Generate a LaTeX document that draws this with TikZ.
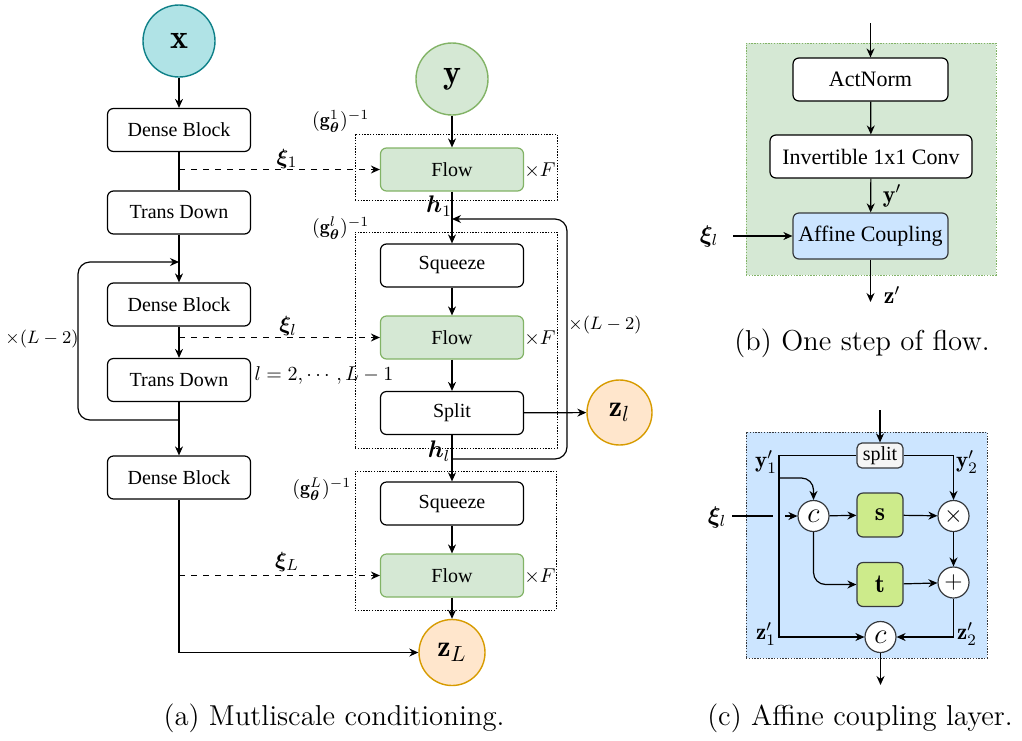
\documentclass[tikz,border=0pt]{standalone}
\usepackage{fontspec}
\usepackage{amsmath,bm}
\newfontfamily\tms{Liberation Serif}
\usetikzlibrary{arrows.meta}
\definecolor{tealF}{HTML}{B0E3E6}
\definecolor{tealS}{HTML}{0E8088}
\definecolor{greenF}{HTML}{D5E8D4}
\definecolor{greenS}{HTML}{82B366}
\definecolor{orangeF}{HTML}{FFE6CC}
\definecolor{orangeS}{HTML}{D79B00}
\definecolor{blueF}{HTML}{CCE5FF}
\definecolor{limeF}{HTML}{CDEB8B}
\definecolor{darkS}{HTML}{36393D}
\definecolor{splitF}{HTML}{F5F5F5}
\begin{document}
\begin{tikzpicture}[x=0.5pt,y=-0.5pt,
  every path/.style={line width=0.6pt},
  arr/.style={-{Stealth[length=4.5pt,width=4pt]}},
  box/.style={draw, rounded corners=3pt, fill=white, minimum width=71.5pt, minimum height=21.5pt, inner sep=0pt, font=\tms\fontsize{10}{12}\selectfont},
  flowbox/.style={box, fill=greenF, draw=greenS},
  dbox/.style={draw, dash pattern=on 0.7pt off 0.7pt, line width=0.5pt, inner sep=0pt},
  bigcirc/.style={circle, draw, minimum size=36pt, inner sep=0pt, line width=0.7pt},
  lab/.style={inner sep=0pt, font=\fontsize{11}{13}\selectfont},
  opc/.style={circle, draw=darkS, fill=white, minimum size=15.5pt, inner sep=0pt},
  sqbox/.style={draw=darkS, fill=limeF, rounded corners=3pt, minimum width=23pt, minimum height=22pt, inner sep=0pt},
  captext/.style={inner sep=0pt, font=\fontsize{14.4}{17}\selectfont}
]
\path[use as bounding box] (0,0) rectangle (1022,740);

%% ---------------- panel (a) ----------------
\node[dbox, minimum width=101pt, minimum height=33pt] (g1) at (456,167) {};
\node[dbox, minimum width=101pt, minimum height=108pt] (g2) at (456,340) {};
\node[dbox, minimum width=100.5pt, minimum height=69.5pt] (g3) at (455.5,540.5) {};
\node[lab, font=\fontsize{10}{12}\selectfont, anchor=south east] (g1l) at (370,133) {$(\mathbf{g}_{\bm\theta}^{1})^{-1}$};
\node[lab, font=\fontsize{10}{12}\selectfont, anchor=south east] (g2l) at (370,240) {$(\mathbf{g}_{\bm\theta}^{l})^{-1}$};
\node[lab, font=\fontsize{10}{12}\selectfont, anchor=east] (g3l) at (352,489) {$(\mathbf{g}_{\bm\theta}^{L})^{-1}$};

\node[bigcirc, fill=tealF, draw=tealS] (xin) at (179,41) {\fontsize{17}{20}\selectfont$\mathbf{x}$};
\node[box] (db1) at (179,130) {Dense Block};
\node[box] (td1) at (179,212.5) {Trans Down};
\node[box] (db2) at (179,304.5) {Dense Block};
\node[box] (td2) at (179,380) {Trans Down};
\node[box] (db3) at (179,477.5) {Dense Block};

\node[bigcirc, fill=greenF, draw=greenS] (yin) at (452,79) {\fontsize{17}{20}\selectfont$\mathbf{y}$};
\node[flowbox] (flow1) at (452,169.5) {Flow};
\node[box] (sq1) at (452,265.5) {Squeeze};
\node[flowbox] (flow2) at (452,337.5) {Flow};
\node[box] (split) at (452,413) {Split};
\node[box] (sq2) at (452,503.5) {Squeeze};
\node[flowbox] (flow3) at (452,575.5) {Flow};
\node[bigcirc, minimum size=32.5pt, fill=orangeF, draw=orangeS] (zl) at (619.5,412.5) {\fontsize{15}{18}\selectfont$\mathbf{z}_l$};
\node[bigcirc, minimum size=33pt, fill=orangeF, draw=orangeS] (zL) at (452,652.5) {\fontsize{15}{18}\selectfont$\mathbf{z}_L$};

\node[lab, font=\fontsize{10}{12}\selectfont] (xF1) at (540,170) {$\times F$};
\node[lab, font=\fontsize{10}{12}\selectfont] (xF2) at (540,338) {$\times F$};
\node[lab, font=\fontsize{10}{12}\selectfont] (xF3) at (540,576) {$\times F$};
\node[lab, font=\fontsize{12}{14}\selectfont] (h1) at (439,206) {$\bm{h}_1$};
\node[lab, font=\fontsize{12}{14}\selectfont] (hl) at (439,451) {$\bm{h}_l$};
\node[lab, font=\fontsize{9.5}{11}\selectfont] (repR) at (605,325) {$\times(L-2)$};
\node[lab, font=\fontsize{9.5}{11}\selectfont] (repL) at (42,339) {$\times(L-2)$};
\node[lab] (xi1) at (287,159) {$\bm{\xi}_1$};
\node[lab] (xil) at (288,326) {$\bm{\xi}_l$};
\node[lab] (xiL) at (287,562) {$\bm{\xi}_L$};
\node[lab, font=\fontsize{10}{12}\selectfont] (lrange) at (324,375) {$l=2,\cdots,L-1$};

\coordinate (d1) at (179,169.5);
\coordinate (d2) at (179,337.5);
\coordinate (d3) at (179,575.5);
\coordinate (lpB) at (179,420);
\coordinate (lpBL) at (78,420);
\coordinate (lpTL) at (78,262);
\coordinate (lpT) at (179,262);
\coordinate (cor) at (179,652.5);
\coordinate (rlB) at (452,459);
\coordinate (rlBR) at (567,459);
\coordinate (rlTR) at (567,219);
\coordinate (rlT) at (452,219);

\draw[arr] (xin) -- (db1);
\draw (db1) -- (td1);
\draw[arr] (td1) -- (db2);
\draw[arr] (db2) -- (td2);
\draw[arr] (td2) -- (db3);
\draw[arr, rounded corners=6pt] (lpB) -- (lpBL) -- (lpTL) -- (lpT);
\draw[arr] (db3.south) -- (cor) -- (zL.west);
\draw[arr, dashed] (d1) -- (flow1.west);
\draw[arr, dashed] (d2) -- (flow2.west);
\draw[arr, dashed] (d3) -- (flow3.west);

\draw[arr] (yin) -- (flow1);
\draw[arr] (flow1) -- (sq1);
\draw[arr] (sq1) -- (flow2);
\draw[arr] (flow2) -- (split);
\draw[arr] (split) -- (zl);
\draw[arr] (split) -- (sq2);
\draw[arr] (sq2) -- (flow3);
\draw[arr] (flow3) -- (zL);
\draw[arr, rounded corners=6pt] (rlB) -- (rlBR) -- (rlTR) -- (rlT);

\node[captext] (capa) at (334,718) {(a) Mutliscale conditioning.};

%% ---------------- panel (b) ----------------
\node[draw=greenS, fill=greenF, dash pattern=on 0.7pt off 0.7pt, line width=0.5pt, minimum width=125pt, minimum height=116pt, inner sep=0pt] (bgb) at (871,159) {};
\node[box, font=\tms\fontsize{11}{13}\selectfont, minimum width=77.5pt] (act) at (870.5,79.5) {ActNorm};
\node[box, font=\tms\fontsize{11}{13}\selectfont, minimum width=101pt] (inv) at (871,156.5) {Invertible 1x1 Conv};
\node[box, font=\tms\fontsize{11}{13}\selectfont, minimum width=77.5pt, minimum height=23pt, fill=blueF, draw=darkS] (aff) at (870.5,236) {Affine Coupling};
\coordinate (bin) at (870.5,23);
\coordinate (bout) at (870.5,302);
\coordinate (xibs) at (733,236);
\node[lab, font=\fontsize{12}{14}\selectfont] (xib) at (709,236) {$\bm{\xi}_l$};
\node[lab, font=\fontsize{12}{14}\selectfont] (yp) at (892,196) {$\mathbf{y}'$};
\node[lab, font=\fontsize{12}{14}\selectfont] (zp) at (892,295) {$\mathbf{z}'$};
\draw[arr] (bin) -- (act);
\draw[arr] (act) -- (inv);
\draw[arr] (inv) -- (aff);
\draw[arr] (aff) -- (bout);
\draw[arr] (xibs) -- (aff.west);
\node[captext] (capb) at (862,343) {(b) One step of flow.};

%% ---------------- panel (c) ----------------
\node[draw=darkS, fill=blueF, dash pattern=on 0.7pt off 0.7pt, line width=0.5pt, minimum width=120.5pt, minimum height=113pt, inner sep=0pt] (bgc) at (866.5,545) {};
\node[draw=darkS, fill=splitF, rounded corners=2.5pt, minimum width=23pt, minimum height=12.5pt, inner sep=0pt, font=\tms\fontsize{10}{12}\selectfont] (spl) at (880,455.5) {split};
\node[opc] (cc) at (813.5,516) {\fontsize{14}{16}\selectfont$c$};
\node[sqbox] (sb) at (880,515) {\fontsize{13}{15}\selectfont$\mathbf{s}$};
\node[sqbox] (tb) at (880,584.5) {\fontsize{13}{15}\selectfont$\mathbf{t}$};
\node[opc] (mul) at (953.5,516) {\fontsize{12}{14}\selectfont$\times$};
\node[opc] (add) at (953.5,582.5) {\fontsize{12}{14}\selectfont$+$};
\node[opc] (c2) at (880.5,637) {\fontsize{14}{16}\selectfont$c$};
\node[lab, font=\fontsize{12}{14}\selectfont] (xic) at (717,517) {$\bm{\xi}_l$};
\node[lab, font=\fontsize{11.5}{14}\selectfont] (y1) at (766,462) {$\mathbf{y}'_1$};
\node[lab, font=\fontsize{11.5}{14}\selectfont] (y2) at (967,462) {$\mathbf{y}'_2$};
\node[lab, font=\fontsize{11.5}{14}\selectfont] (z1) at (766,634) {$\mathbf{z}'_1$};
\node[lab, font=\fontsize{11.5}{14}\selectfont] (z2) at (967,634) {$\mathbf{z}'_2$};

\coordinate (cin) at (880,410);
\coordinate (cout) at (880.5,685);
\coordinate (lTop) at (779,455.5);
\coordinate (lBot) at (779,637);
\coordinate (lBr) at (779,478);
\coordinate (lBrR) at (813.5,478);
\coordinate (rTop) at (953.5,455.5);
\coordinate (rBot) at (953.5,637);
\coordinate (cTB) at (813.5,584.5);
\coordinate (xics) at (732,516);
\coordinate (gapL) at (773,516);
\coordinate (gapR) at (785,516);

\draw[arr] (cin) -- (spl);
\draw[arr] (spl.west) -- (lTop) -- (lBot) -- (c2.west);
\draw[arr, rounded corners=6pt] (lBr) -- (lBrR) -- (cc.north);
\draw[arr] (spl.east) -- (rTop) -- (mul.north);
\draw (xics) -- (gapL);
\draw[arr] (gapR) -- (cc.west);
\draw[arr] (cc) -- (sb);
\draw[arr] (sb) -- (mul);
\draw[arr] (mul) -- (add);
\draw[arr, rounded corners=6pt] (cc.south) -- (cTB) -- (tb.west);
\draw[arr] (tb) -- (add);
\draw[arr] (add.south) -- (rBot) -- (c2.east);
\draw[arr] (c2) -- (cout);
\node[captext] (capc) at (860,718) {(c) Affine coupling layer.};
\end{tikzpicture}
\end{document}
